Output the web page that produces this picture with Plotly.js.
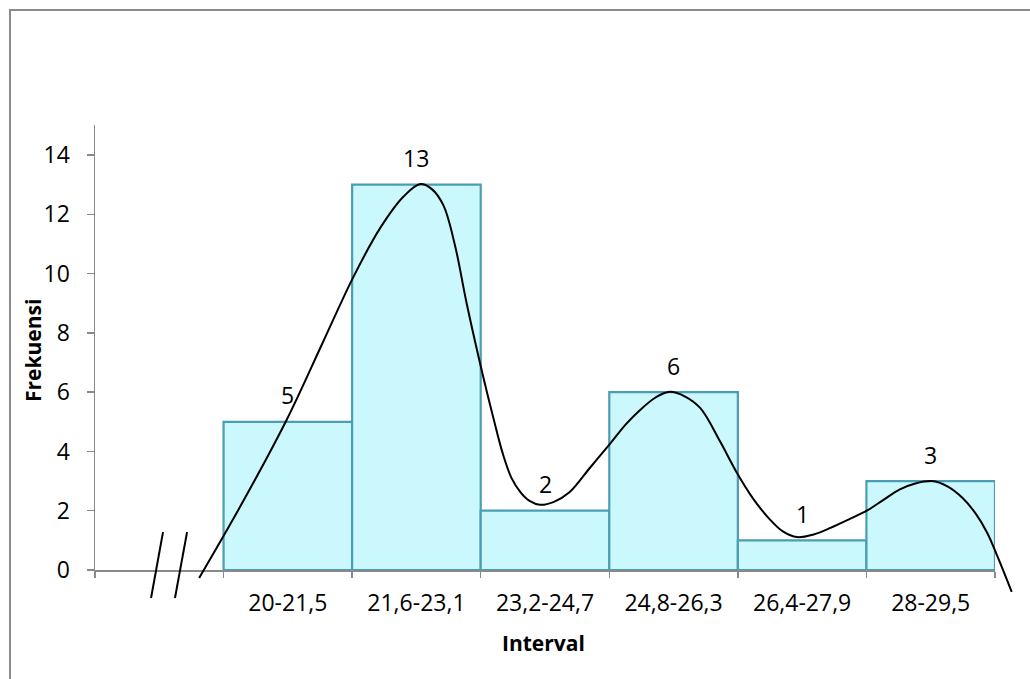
<!DOCTYPE html>
<html>
<head>
<meta charset="utf-8">
<script src="https://cdn.plot.ly/plotly-3.0.1.min.js"></script>
<style>html,body{margin:0;padding:0;background:#fff;}#chart{width:1030px;height:679px;}</style>
</head>
<body>
<div id="chart"></div>
<script>
// ---- data ----
const categories = ['20-21,5', '21,6-23,1', '23,2-24,7', '24,8-26,3', '26,4-27,9', '28-29,5'];
const frequencies = [5, 13, 2, 6, 1, 3];
// smooth frequency curve (x in category units, blank slot at 0)
const curveX = [0.31, 0.65, 0.99, 1.27, 1.51, 1.72, 1.90, 2.03,
                2.12, 2.21, 2.30, 2.39, 2.52, 2.60, 2.67, 2.74, 2.81, 2.88, 2.96,
                3.07, 3.19, 3.35, 3.51, 3.63, 3.74, 3.86, 3.97,
                4.09, 4.21, 4.36, 4.49, 4.62, 4.75, 4.85, 4.96,
                5.09, 5.22, 5.36, 5.51, 5.63, 5.76, 5.88, 6.01,
                6.13, 6.25, 6.35, 6.44, 6.52, 6.63];
const curveY = [-0.27, 2.30, 5.06, 7.66, 9.89, 11.55, 12.60, 13.02,
                12.85, 12.30, 10.95, 9.01, 6.51, 5.10, 3.95, 3.10, 2.62, 2.33, 2.20,
                2.30, 2.62, 3.45, 4.28, 4.92, 5.40, 5.82, 6.01,
                5.85, 5.45, 4.35, 3.30, 2.40, 1.70, 1.30, 1.11,
                1.20, 1.42, 1.70, 2.02, 2.36, 2.72, 2.92, 3.00,
                2.82, 2.42, 1.90, 1.25, 0.45, -0.74];

// ---- geometry (pixels) ----
const W = 1030, H = 679;
const axLeft = 95, axRight = 995, axBottom = 570, unitY = 29.64;
const xr = [-0.5, categories.length + 0.5];
const yr = [0, 15];
const pxPerX = (axRight - axLeft) / (xr[1] - xr[0]);
const xPx = v => axLeft + (v - xr[0]) * pxPerX;
const yPx = v => axBottom - v * unitY;
const fx = p => p / W, fy = p => (H - p) / H;

const x2r = [-0.6, 6.75];
const y2r = [-1.3, 15];

const barX = categories.map((c, i) => i + 1);

const bars = {
  type: 'bar', x: barX, y: frequencies, width: 1,
  marker: {color: '#cbf8fd', line: {color: '#4a9db2', width: 2.2}},
  xaxis: 'x', yaxis: 'y', hoverinfo: 'skip'
};
const curve = {
  type: 'scatter', mode: 'lines', x: curveX, y: curveY,
  line: {color: '#000', width: 2, shape: 'spline', smoothing: 1},
  xaxis: 'x2', yaxis: 'y2', hoverinfo: 'skip'
};

const font = "'Open Sans', 'Noto Sans', sans-serif";
const labelAnn = frequencies.map((v, i) => ({
  x: barX[i], y: v, xref: 'x', yref: 'y', yshift: 26.5, text: String(v),
  xanchor: 'center', yanchor: 'middle',
  showarrow: false, font: {family: font, size: 23, color: '#000'}
}));

const layout = {
  width: W, height: H,
  margin: {l: 0, r: 0, t: 0, b: 0},
  paper_bgcolor: '#fff', plot_bgcolor: 'rgba(0,0,0,0)',
  showlegend: false,
  bargap: 0,
  font: {family: font, size: 23, color: '#000'},
  xaxis: {
    domain: [fx(axLeft), fx(axRight)], range: xr, anchor: 'y',
    tickmode: 'array', tickvals: barX, ticktext: categories, ticks: '',
    showline: true, linecolor: '#898989', linewidth: 1.5,
    showgrid: false, zeroline: false, ticklabelstandoff: 12,
    tickfont: {family: font, size: 23, color: '#000'},
    minor: {tickmode: 'linear', tick0: -0.5, dtick: 1, ticks: 'outside', ticklen: 6, tickcolor: '#898989', tickwidth: 1.5, showgrid: false}
  },
  yaxis: {
    domain: [fy(yPx(yr[0])), fy(yPx(yr[1]))], range: yr, anchor: 'x',
    tickmode: 'linear', tick0: 0, dtick: 2, ticks: 'outside', ticklen: 7,
    tickcolor: '#898989', tickwidth: 1.5,
    showline: true, linecolor: '#898989', linewidth: 1.5,
    showgrid: false, zeroline: false, ticklabelstandoff: 12,
    tickfont: {family: font, size: 23, color: '#000'}
  },
  xaxis2: {
    domain: [fx(xPx(x2r[0])), fx(xPx(x2r[1]))], range: x2r, anchor: 'y2',
    visible: false, showgrid: false, zeroline: false
  },
  yaxis2: {
    domain: [fy(yPx(y2r[0])), fy(yPx(y2r[1]))], range: y2r, anchor: 'x2',
    visible: false, showgrid: false, zeroline: false
  },
  shapes: [
    {type: 'rect', xref: 'paper', yref: 'paper', x0: fx(10), x1: 1.05, y0: -0.05, y1: fy(10),
     line: {color: '#8a8a8a', width: 2}, fillcolor: 'rgba(0,0,0,0)', layer: 'below'},
    // axis break marks
    {type: 'line', xref: 'x2', yref: 'y2', x0: -0.064, y0: -0.945, x1: 0.029, y1: 1.28, line: {color: '#000', width: 2}},
    {type: 'line', xref: 'x2', yref: 'y2', x0: 0.122, y0: -0.945, x1: 0.216, y1: 1.28, line: {color: '#000', width: 2}}
  ],
  annotations: labelAnn.concat([
    {x: fx(543), y: fy(643), xref: 'paper', yref: 'paper', xanchor: 'center', yanchor: 'middle',
     text: '<b>Interval</b>', showarrow: false, font: {family: font, size: 21, color: '#000'}},
    {x: fx(33), y: fy(351), xref: 'paper', yref: 'paper', xanchor: 'center', yanchor: 'middle',
     text: '<b>Frekuensi</b>', showarrow: false, textangle: -90, font: {family: font, size: 21, color: '#000'}}
  ])
};

Plotly.newPlot('chart', [bars, curve], layout, {displayModeBar: false, staticPlot: true});
</script>
</body>
</html>
